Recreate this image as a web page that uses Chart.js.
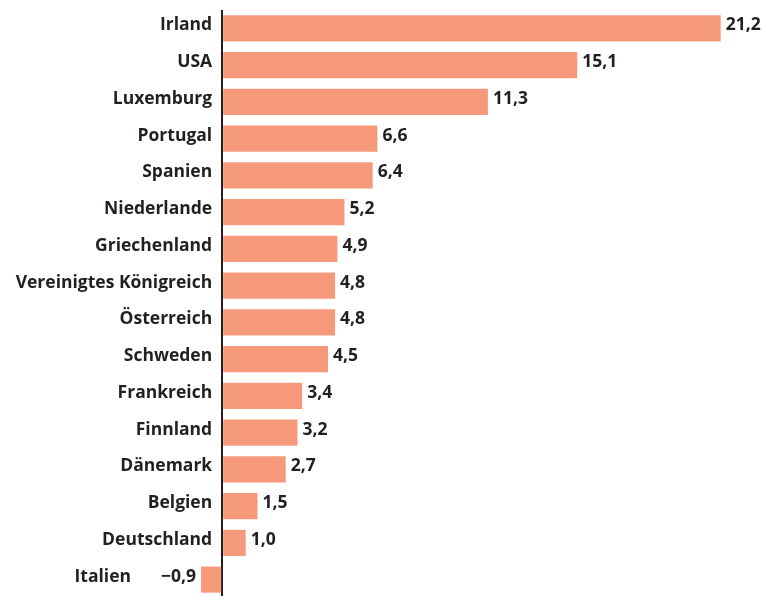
<!DOCTYPE html>
<html>
<head>
<meta charset="utf-8">
<script src="https://cdn.jsdelivr.net/npm/chart.js@4/dist/chart.umd.min.js"></script>
<style>
  html, body { margin: 0; padding: 0; background: #fff; overflow: hidden; }
  #wrap { position: relative; width: 763px; height: 600px; }
</style>
</head>
<body>
<div id="wrap"><canvas id="chart"></canvas></div>
<script>
// Countries, top to bottom
const countries = [
  "Irland", "USA", "Luxemburg", "Portugal", "Spanien", "Niederlande",
  "Griechenland", "Vereinigtes Königreich", "Österreich", "Schweden",
  "Frankreich", "Finnland", "Dänemark", "Belgien", "Deutschland", "Italien"
];
// Values (per cent)
const values = [21.2, 15.1, 11.3, 6.6, 6.4, 5.2, 4.9, 4.8, 4.8, 4.5, 3.4, 3.2, 2.7, 1.5, 1.0, -0.9];

const barColor = "#f6997b";
const textColor = "#231f20";
const labelFont = "bold 17.5px 'Open Sans'";

// Formats a number German style, with a real minus sign.
function formatValue(v) {
  const s = Math.abs(v).toFixed(1).replace(".", ",");
  return v < 0 ? "\u2212" + s : s;
}

// Draws the value next to each bar and the country name left of it.
const labelPlugin = {
  id: "labels",
  afterDatasetsDraw(chart) {
    const ctx = chart.ctx;
    const x = chart.scales.x, y = chart.scales.y;
    const zero = x.getPixelForValue(0);
    ctx.save();
    ctx.font = labelFont;
    ctx.fillStyle = textColor;
    ctx.textBaseline = "alphabetic";
    values.forEach((v, i) => {
      const cy = y.getPixelForValue(i) + 2;
      const end = x.getPixelForValue(v);
      const txt = formatValue(v);
      if (v >= 0) {
        ctx.textAlign = "left";
        ctx.fillText(txt, end + 5, cy);
        ctx.textAlign = "right";
        ctx.fillText(countries[i], zero - 10, cy);
      } else {
        ctx.textAlign = "right";
        ctx.fillText(txt, end - 5, cy);
        const w = ctx.measureText(txt).width;
        ctx.fillText(countries[i], end - 5 - w - 30, cy);
      }
    });
    ctx.restore();
  }
};

new Chart(document.getElementById("chart"), {
  type: "bar",
  data: {
    labels: countries,
    datasets: [{
      data: values,
      backgroundColor: barColor,
      borderWidth: 0,
      barPercentage: 0.71,
      categoryPercentage: 1
    }]
  },
  options: {
    indexAxis: "y",
    responsive: true,
    maintainAspectRatio: false,
    animation: false,
    layout: { padding: { top: 10, bottom: 2, left: 0, right: 0 } },
    plugins: { legend: { display: false }, tooltip: { enabled: false } },
    scales: {
      x: {
        min: -9.45,
        max: 23.0,
        ticks: { display: false, stepSize: 1 },
        border: { display: false },
        grid: {
          drawTicks: false,
          lineWidth: 2,
          color: (c) => (c.tick && c.tick.value === 0 ? textColor : "transparent")
        }
      },
      y: {
        ticks: { display: false },
        border: { display: false },
        grid: { display: false, drawTicks: false }
      }
    }
  },
  plugins: [labelPlugin]
});
</script>
</body>
</html>
